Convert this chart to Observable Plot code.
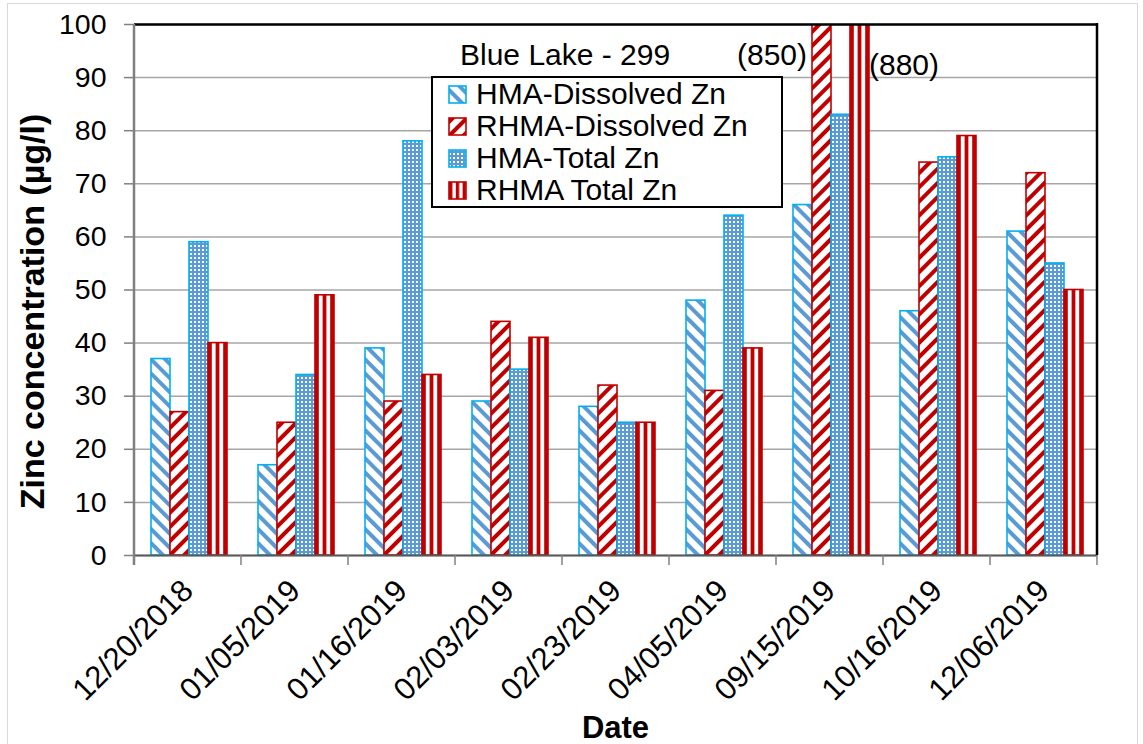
<!DOCTYPE html>
<html><head><meta charset="utf-8">
<script src="https://cdn.jsdelivr.net/npm/d3@7"></script>
<script src="https://cdn.jsdelivr.net/npm/@observablehq/plot@0.6"></script>
<style>
html,body{margin:0;padding:0;background:#fff;}
#wrap{position:relative;width:1143px;height:744px;overflow:hidden;}
#border{position:absolute;left:7px;top:3px;width:1131px;height:800px;border:1.5px solid #d9d9d9;box-sizing:border-box;pointer-events:none}
#chart{position:absolute;left:0;top:0;}
</style></head>
<body>
<svg width="0" height="0" style="position:absolute">
  <defs>
    <pattern id="pHD" patternUnits="userSpaceOnUse" width="10" height="10" patternTransform="rotate(-45)">
      <rect width="10" height="10" fill="#fff"/>
      <rect x="0" y="0" width="4" height="10" fill="#5B9BD5"/>
    </pattern>
    <pattern id="pRD" patternUnits="userSpaceOnUse" width="10" height="10" patternTransform="rotate(45)">
      <rect width="10" height="10" fill="#fff"/>
      <rect x="0" y="0" width="4" height="10" fill="#C00000"/>
    </pattern>
    <pattern id="pHT" patternUnits="userSpaceOnUse" width="4" height="4">
      <rect width="4" height="4" fill="#5B9BD5"/>
      <rect x="1" y="1" width="2" height="2" fill="#fff"/>
    </pattern>
    <pattern id="pRT" patternUnits="objectBoundingBox" patternContentUnits="objectBoundingBox" width="0.4" height="1">
      <rect width="0.4" height="1" fill="#fff"/>
      <rect x="0" y="0" width="0.2" height="1" fill="#C00000"/>
    </pattern>
  </defs>
</svg>
<div id="wrap"><div id="chart"></div><div id="border"></div></div>
<script>
// ---- data ----
const dates = ["12/20/2018","01/05/2019","01/16/2019","02/03/2019","02/23/2019","04/05/2019","09/15/2019","10/16/2019","12/06/2019"];
const series = ["HMA-Dissolved Zn","RHMA-Dissolved Zn","HMA-Total Zn","RHMA Total Zn"];
const hmaDissolved  = [37,17,39,29,28,48,66,46,61];
const rhmaDissolved = [27,25,29,44,32,31,850,74,72];
const hmaTotal      = [59,34,78,35,25,64,83,75,55];
const rhmaTotal     = [40,49,34,41,25,39,880,79,50];
const yTicks = [0,10,20,30,40,50,60,70,80,90,100];
const chartTitle = "Blue Lake - 299";
const yTitle = "Zinc concentration (µg/l)";
const xTitle = "Date";
const offScale = [
  {date:"09/15/2019", series:"RHMA-Dissolved Zn", label:"(850)"},
  {date:"09/15/2019", series:"RHMA Total Zn", label:"(880)"}
];

// ---- build table ----
const valuesBySeries = [hmaDissolved, rhmaDissolved, hmaTotal, rhmaTotal];
const rows = [];
series.forEach((s, j) => dates.forEach((d, i) => rows.push({date:d, series:s, value:valuesBySeries[j][i]})));

const look = {
  "HMA-Dissolved Zn":  {fill:"url(#pHD)", stroke:"#00B0F0"},
  "RHMA-Dissolved Zn": {fill:"url(#pRD)", stroke:"#C00000"},
  "HMA-Total Zn":      {fill:"url(#pHT)", stroke:"#00B0F0"},
  "RHMA Total Zn":     {fill:"url(#pRT)", stroke:"#C00000"}
};
const FONT = "'Liberation Sans', Arial, sans-serif";

const plot = Plot.plot({
  width:1143, height:744,
  marginLeft:133, marginRight:45, marginTop:24, marginBottom:189,
  style:{fontFamily:FONT, background:"transparent", color:"#000", overflow:"visible"},
  fx:{domain:dates, padding:0, label:null},
  x:{domain:series, paddingInner:0, paddingOuter:0.7, align:0.55, axis:null},
  y:{domain:[0,100], label:null},
  marks:[
    Plot.gridY(yTicks, {stroke:"#a6a6a6", strokeOpacity:1, strokeWidth:1.5}),
    ...series.map(s => Plot.barY(rows.filter(r => r.series === s), {
      fx:"date", x:"series", y:"value",
      fill:look[s].fill, stroke:look[s].stroke, strokeWidth:1.6, clip:true
    })),
    Plot.ruleY([100], {stroke:"#000", strokeWidth:2.5}),
    Plot.ruleY([0], {stroke:"#595959", strokeWidth:2}),
    Plot.axisY(yTicks, {tickSize:10, tickPadding:18, fontSize:28.5, stroke:"#808080", strokeWidth:1.5, label:null}),
    Plot.axisFx({anchor:"bottom", tickSize:0, tickRotate:-45, tickPadding:30, fontSize:31, label:null}),
    Plot.text(offScale.slice(0,1), {fx:"date", x:"series", text:"label", frameAnchor:"top", dy:19, dx:-15, textAnchor:"end", fontSize:30}),
    Plot.text(offScale.slice(1), {fx:"date", x:"series", text:"label", frameAnchor:"top", dy:29, dx:9, textAnchor:"start", fontSize:30})
  ]
});
document.getElementById("chart").appendChild(plot);

// ---- frame, boundary ticks, titles, legend (using the plot's scales) ----
const svg = d3.select(plot.tagName.toLowerCase() === "svg" ? plot : plot.querySelector("svg"));
const fxS = plot.scale("fx"), yS = plot.scale("y");
const bounds = dates.map(d => fxS.apply(d)).concat([fxS.apply(dates[dates.length-1]) + fxS.bandwidth]);
const y0 = yS.apply(0), y100 = yS.apply(100);
const xL = bounds[0], xR = bounds[bounds.length-1];
const g = svg.append("g").attr("text-anchor", "start");
g.selectAll("line.bt").data(bounds).join("line")
  .attr("x1", d => d).attr("x2", d => d).attr("y1", y0).attr("y2", y0 + 10)
  .attr("stroke", "#808080").attr("stroke-width", 1.5);
g.append("line").attr("x1", xL).attr("x2", xL).attr("y1", y100).attr("y2", y0 + 10)
  .attr("stroke", "#808080").attr("stroke-width", 2.5);
g.append("line").attr("x1", xR).attr("x2", xR).attr("y1", y100 - 1).attr("y2", y0)
  .attr("stroke", "#000").attr("stroke-width", 2.5);

g.append("text").text(yTitle)
  .attr("transform", `translate(44,${(y0 + y100) / 2 + 22}) rotate(-90)`)
  .attr("text-anchor", "middle").attr("font-family", FONT).attr("font-weight", "bold").attr("font-size", 34);
g.append("text").text(xTitle)
  .attr("x", (xL + xR) / 2).attr("y", 738)
  .attr("text-anchor", "middle").attr("font-family", FONT).attr("font-weight", "bold").attr("font-size", 31);
g.append("text").text(chartTitle)
  .attr("x", 460).attr("y", 65).attr("text-anchor", "start").attr("font-family", FONT).attr("font-size", 30);

const lg = g.append("g").attr("transform", "translate(432,77)");
lg.append("rect").attr("width", 350).attr("height", 130).attr("fill", "#fff").attr("stroke", "#000").attr("stroke-width", 2);
series.forEach((s, i) => {
  const row = lg.append("g").attr("transform", `translate(0,${27 + i * 32})`);
  row.append("rect").attr("x", 17).attr("y", -18).attr("width", 17).attr("height", 17)
    .attr("fill", look[s].fill).attr("stroke", look[s].stroke).attr("stroke-width", 1.6);
  row.append("text").text(s).attr("x", 44).attr("y", 0).attr("text-anchor", "start")
    .attr("font-family", FONT).attr("font-size", 30);
});
</script>
</body></html>
